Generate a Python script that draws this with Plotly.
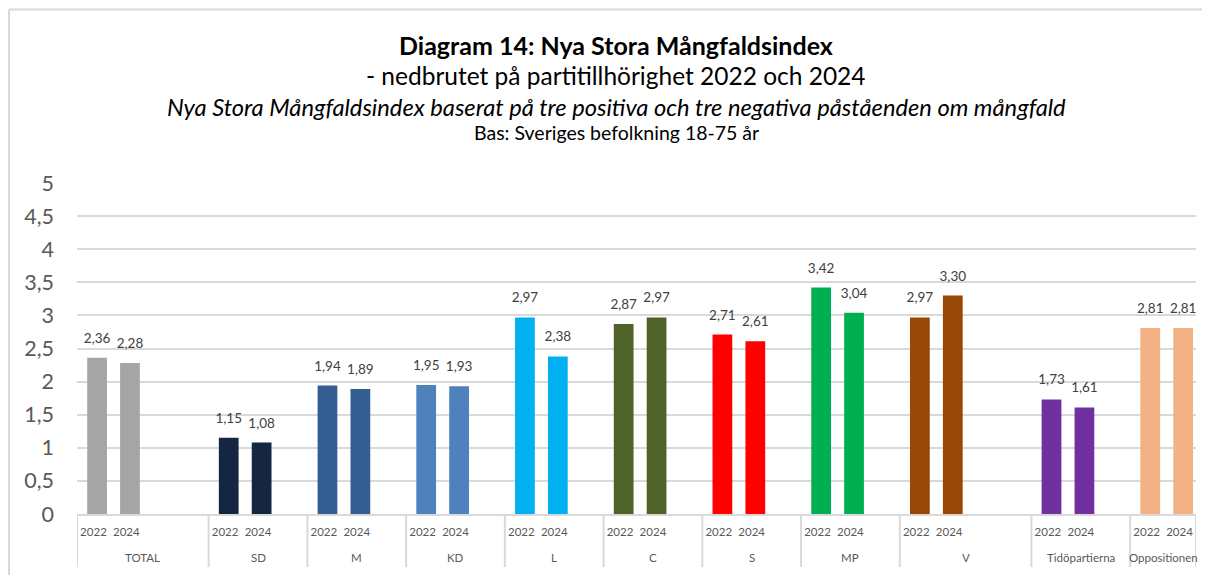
import plotly.graph_objects as go

# ---- data ----
groups = ["TOTAL", "SD", "M", "KD", "L", "C", "S", "MP", "V", "Tidöpartierna", "Oppositionen"]
years = ["2022", "2024"]
values_2022 = [2.36, 1.15, 1.94, 1.95, 2.97, 2.87, 2.71, 3.42, 2.97, 1.73, 2.81]
values_2024 = [2.28, 1.08, 1.89, 1.93, 2.38, 2.97, 2.61, 3.04, 3.30, 1.61, 2.81]
colors = ["#A5A5A5", "#142641", "#345E91", "#4F81BD", "#00B0F0", "#4F6228",
          "#FF0000", "#00B050", "#974706", "#7030A0", "#F4B183"]

# empty category slots after each group (layout of the original axis)
empty_slots = [2, 1, 1, 1, 1, 1, 1, 1, 2, 1, 0]

cats, ticktext, ys, cols, texts = [], [], [], [], []
group_bounds = []  # (first slot index, last slot index + 1)
for g, v22, v24, c, pad in zip(groups, values_2022, values_2024, colors, empty_slots):
    start = len(cats)
    for yr, v in zip(years, [v22, v24]):
        cats.append(f"{g} {yr}")
        ticktext.append(yr)
        ys.append(v)
        cols.append(c)
        texts.append(f"{v:.2f}".replace(".", ","))
    for k in range(pad):
        cats.append(f"{g} _{k}")
        ticktext.append("")
        ys.append(None)
        cols.append(c)
        texts.append("")
    group_bounds.append((start, len(cats)))

FONT = "Lato"
OFF = 8                      # page body margin of the html page
W, H = 1210 - OFF, 575 - OFF
L, T = 77 - OFF, 183 - OFF
pw, ph = 1119, 331
R, B = W - L - pw, H - T - ph
BAR_W, BAR_SHIFT = 0.6, 0.11   # bars sit slightly right of the slot centre


def xp(px):
    return (px - OFF - L) / pw


def yp(py):
    return (H - B - (py - OFF)) / ph


fig = go.Figure()
fig.add_trace(go.Bar(
    x=cats,
    y=ys,
    marker=dict(color=cols, line=dict(width=0)),
    width=BAR_W,
    offset=-BAR_W / 2 + BAR_SHIFT,
    showlegend=False,
    hoverinfo="y",
))
fig.add_trace(go.Scatter(
    x=cats,
    y=ys,
    xaxis="x2",
    mode="markers+text",
    marker=dict(size=17, color="rgba(0,0,0,0)"),
    text=texts,
    textposition="top center",
    textfont=dict(family=FONT, size=13.5, color="#404040"),
    cliponaxis=False,
    showlegend=False,
    hoverinfo="skip",
))

titles = [
    ("<b>Diagram 14: Nya Stora Mångfaldsindex</b>", 45, 25),
    ("- nedbrutet på partitillhörighet 2022 och 2024", 76, 24.5),
    ("<i>Nya Stora Mångfaldsindex baserat på tre positiva och tre negativa påståenden om mångfald</i>", 107, 23.7),
    ("Bas: Sveriges befolkning 18-75 år", 132, 19.5),
]
annotations = []
for txt, py, size in titles:
    annotations.append(dict(
        text=txt, x=xp(616), y=yp(py), xref="paper", yref="paper",
        xanchor="center", yanchor="middle", showarrow=False,
        font=dict(family=FONT, size=size, color="#000000"),
    ))

shapes = [
    dict(type="line", xref="paper", yref="paper", x0=xp(9), x1=xp(1215), y0=yp(9.5), y1=yp(9.5),
         line=dict(color="#D9D9D9", width=2)),
    dict(type="line", xref="paper", yref="paper", x0=xp(9), x1=xp(9), y0=yp(9.5), y1=yp(580),
         line=dict(color="#D9D9D9", width=2)),
]

# group dividers and group labels on the category axis
for g, (s, e) in zip(groups, group_bounds):
    shapes.append(dict(type="line", xref="x", yref="paper", x0=s - 0.5, x1=s - 0.5,
                       y0=0, y1=yp(567), line=dict(color="#D9D9D9", width=2)))
    annotations.append(dict(
        text=g, x=(s + e - 1) / 2, y=yp(557), xref="x", yref="paper",
        xanchor="center", yanchor="middle", showarrow=False,
        font=dict(family=FONT, size=11.5, color="#595959"),
    ))
shapes.append(dict(type="line", xref="x", yref="paper", x0=len(cats) - 0.5, x1=len(cats) - 0.5,
                   y0=0, y1=yp(567), line=dict(color="#D9D9D9", width=2)))

fig.update_layout(
    width=W, height=H,
    margin=dict(l=L, r=R, t=T, b=B, autoexpand=False),
    paper_bgcolor="white", plot_bgcolor="white",
    separators=", ",
    font=dict(family=FONT, color="#595959"),
    annotations=annotations,
    shapes=shapes,
    xaxis=dict(
        type="category",
        categoryorder="array", categoryarray=cats,
        range=[-0.5, len(cats) - 0.5],
        tickmode="array", tickvals=cats, ticktext=ticktext,
        showline=True, linecolor="#D9D9D9", linewidth=2,
        showgrid=False,
        tickfont=dict(family=FONT, size=11.5, color="#595959"),
        tickangle=0,
        ticks="",
        ticklabelstandoff=6,
    ),
    xaxis2=dict(
        type="category",
        categoryorder="array", categoryarray=cats,
        range=[-0.5 - BAR_SHIFT, len(cats) - 0.5 - BAR_SHIFT],
        overlaying="x", visible=False,
    ),
    yaxis=dict(
        range=[0, 5], dtick=0.5, tick0=0,
        showgrid=True, gridcolor="#D9D9D9", gridwidth=2,
        zeroline=False, showline=False,
        tickfont=dict(family=FONT, size=21.5, color="#595959"),
        ticklabelstandoff=22,
    ),
)

fig.write_html("out.html")
